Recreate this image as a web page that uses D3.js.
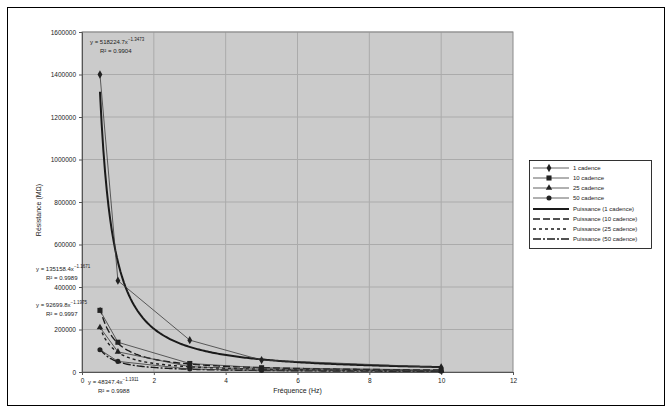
<!DOCTYPE html>
<html>
<head>
<meta charset="utf-8">
<script src="https://cdn.jsdelivr.net/npm/d3@7"></script>
<style>
  html, body { margin: 0; padding: 0; background: #fff; }
  svg { display: block; font-family: "Liberation Sans", Arial, sans-serif; }
</style>
</head>
<body>
<svg id="chart" width="672" height="414"></svg>
<script>
// Measured resistance versus frequency, four cadences, with power trendlines
const xValues = [0.5, 1, 3, 5, 10];
const seriesNames = ["1 cadence", "10 cadence", "25 cadence", "50 cadence"];
const values1 = [1400000, 430000, 150000, 56000, 22000];
const values2 = [290000, 140000, 40000, 20000, 9000];
const values3 = [210000, 95000, 25000, 13000, 6000];
const values4 = [105000, 50000, 14000, 7000, 3000];
const xTicks = [0, 2, 4, 6, 8, 10, 12];
const yTicks = [0, 200000, 400000, 600000, 800000, 1000000, 1200000, 1400000, 1600000];
const xTitle = "Fréquence (Hz)";
const yTitle = "Résistance (MΩ)";

const allValues = [values1, values2, values3, values4];
const markerTypes = [d3.symbolDiamond, d3.symbolSquare, d3.symbolTriangle, d3.symbolCircle];
const markerSizes = [20, 26, 18, 20];
const fitDash = [null, "7,3", "3,3", "8,2,2,2"];
const fitWidth = [2, 1.4, 1.4, 1.4];

const svg = d3.select("#chart");
const plot = { left: 82, right: 513, top: 32, bottom: 372 };

const x = d3.scaleLinear().domain([0, 12]).range([plot.left, plot.right]);
const y = d3.scaleLinear().domain([0, 1600000]).range([plot.bottom, plot.top]);

// outer frame
svg.append("rect").attr("x", 7.5).attr("y", 7.5).attr("width", 657).attr("height", 398)
  .attr("fill", "#fff").attr("stroke", "#000").attr("stroke-width", 1);

// plot area
svg.append("rect").attr("x", plot.left).attr("y", plot.top)
  .attr("width", plot.right - plot.left).attr("height", plot.bottom - plot.top)
  .attr("fill", "#cbcbcb");

// gridlines
const grid = svg.append("g");
grid.selectAll("line.h").data(yTicks.slice(1)).join("line")
  .attr("x1", plot.left).attr("x2", plot.right)
  .attr("y1", d => y(d)).attr("y2", d => y(d))
  .attr("stroke", "#ababab").attr("stroke-width", 1);
grid.selectAll("line.v").data(xTicks.slice(1, -1)).join("line")
  .attr("y1", plot.top).attr("y2", plot.bottom)
  .attr("x1", d => x(d)).attr("x2", d => x(d))
  .attr("stroke", "#ababab").attr("stroke-width", 1);

svg.append("rect").attr("x", plot.left).attr("y", plot.top)
  .attr("width", plot.right - plot.left).attr("height", plot.bottom - plot.top)
  .attr("fill", "none").attr("stroke", "#8a8a8a").attr("stroke-width", 1);

// axes
const xAxis = d3.axisBottom(x).tickValues(xTicks).tickSize(3).tickPadding(3);
const yAxis = d3.axisLeft(y).tickValues(yTicks).tickSize(3).tickPadding(3).tickFormat(d3.format("d"));
const gx = svg.append("g").attr("transform", `translate(0,${plot.bottom})`).call(xAxis);
const gy = svg.append("g").attr("transform", `translate(${plot.left},0)`).call(yAxis);
[gx, gy].forEach(g => {
  g.select(".domain").attr("stroke", "#555");
  g.selectAll(".tick line").attr("stroke", "#555");
  g.selectAll(".tick text").attr("font-size", 6.5).attr("fill", "#222")
    .attr("font-family", "Liberation Sans, Arial, sans-serif");
});

svg.append("text").attr("x", x(6)).attr("y", 393).attr("text-anchor", "middle")
  .attr("font-size", 7).attr("fill", "#222").text(xTitle);
svg.append("text").attr("transform", `translate(41,${(plot.top + plot.bottom) / 2 + 8}) rotate(-90)`)
  .attr("text-anchor", "middle").attr("font-size", 7).attr("fill", "#222").text(yTitle);

// power regression y = a x^b in log space, as a spreadsheet trendline does
function powerFit(xs, ys) {
  const lx = xs.map(Math.log), ly = ys.map(Math.log);
  const mx = d3.mean(lx), my = d3.mean(ly);
  let sxy = 0, sxx = 0, syy = 0;
  lx.forEach((v, i) => { sxy += (v - mx) * (ly[i] - my); sxx += (v - mx) ** 2; syy += (ly[i] - my) ** 2; });
  const b = sxy / sxx;
  const a = Math.exp(my - b * mx);
  const r2 = (sxy * sxy) / (sxx * syy);
  return { a, b, r2 };
}

const fits = allValues.map(v => powerFit(xValues, v));

// trendlines
const lineGen = d3.line().x(d => x(d[0])).y(d => y(d[1]));
fits.forEach((f, i) => {
  const xs = d3.range(0, 201).map(k => xValues[0] + (xValues[xValues.length - 1] - xValues[0]) * k / 200);
  svg.append("path")
    .attr("d", lineGen(xs.map(v => [v, f.a * Math.pow(v, f.b)])))
    .attr("fill", "none").attr("stroke", "#1a1a1a")
    .attr("stroke-width", fitWidth[i])
    .attr("stroke-dasharray", fitDash[i]);
});

// measured series with markers
allValues.forEach((vals, i) => {
  const pts = xValues.map((v, k) => [v, vals[k]]);
  svg.append("path").attr("d", lineGen(pts))
    .attr("fill", "none").attr("stroke", "#3a3a3a").attr("stroke-width", 0.8);
  svg.append("g").selectAll("path").data(pts).join("path")
    .attr("transform", d => `translate(${x(d[0])},${y(d[1])})`)
    .attr("d", d3.symbol().type(markerTypes[i]).size(markerSizes[i]))
    .attr("fill", "#222");
});

// trendline equations
const eqPos = [[90, 44], [36, 271], [36, 307], [88, 384]];
fits.forEach((f, i) => {
  const g = svg.append("g").attr("font-size", 6).attr("fill", "#222");
  const t = g.append("text").attr("x", eqPos[i][0]).attr("y", eqPos[i][1]);
  t.append("tspan").text(`y = ${d3.format(".1f")(f.a)}x`);
  t.append("tspan").attr("dy", -3).attr("font-size", 4.5).text(d3.format(".4f")(f.b));
  g.append("text").attr("x", eqPos[i][0] + 10).attr("y", eqPos[i][1] + 9)
    .text(`R² = ${d3.format(".4f")(f.r2)}`);
});

// legend
const lg = svg.append("g").attr("transform", "translate(529,160)");
lg.append("rect").attr("x", 0.5).attr("y", 0.5).attr("width", 122).attr("height", 88)
  .attr("fill", "#fff").attr("stroke", "#000").attr("stroke-width", 0.8);
seriesNames.forEach((name, i) => {
  const yy = 8 + i * 10;
  lg.append("line").attr("x1", 4).attr("x2", 40).attr("y1", yy).attr("y2", yy)
    .attr("stroke", "#3a3a3a").attr("stroke-width", 0.8);
  lg.append("path").attr("transform", `translate(20,${yy})`)
    .attr("d", d3.symbol().type(markerTypes[i]).size(markerSizes[i])).attr("fill", "#222");
  lg.append("text").attr("x", 44).attr("y", yy + 2).attr("font-size", 6).attr("fill", "#222").text(name);
});
seriesNames.forEach((name, i) => {
  const yy = 49 + i * 10;
  lg.append("line").attr("x1", 4).attr("x2", 40).attr("y1", yy).attr("y2", yy)
    .attr("stroke", "#1a1a1a").attr("stroke-width", fitWidth[i]).attr("stroke-dasharray", fitDash[i]);
  lg.append("text").attr("x", 44).attr("y", yy + 2).attr("font-size", 6).attr("fill", "#222")
    .text(`Puissance (${name})`);
});
</script>
</body>
</html>
